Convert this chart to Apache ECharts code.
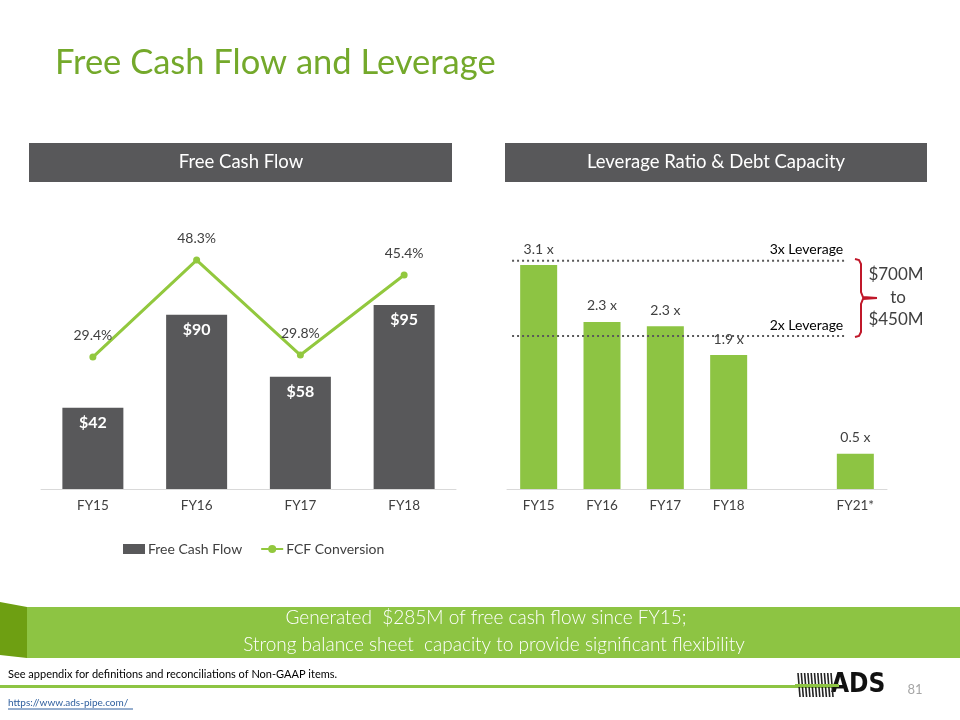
<!DOCTYPE html>
<html>
<head>
<meta charset="utf-8">
<script src="https://cdn.jsdelivr.net/npm/echarts@6/dist/echarts.min.js"></script>
<style>html,body{margin:0;padding:0;background:#fff}#c{width:960px;height:720px}</style>
</head>
<body>
<div id="c"></div>
<script>
// ---- data ----
var fcfCategories = ['FY15', 'FY16', 'FY17', 'FY18'];
var fcfValues = [42, 90, 58, 95];
var fcfConversion = [29.4, 48.3, 29.8, 45.4];
var levCategories = ['FY15', 'FY16', 'FY17', 'FY18', '', 'FY21*'];
var levValues = [3.11, 2.32, 2.26, 1.86, null, 0.49];
var refLineLevels = [3.17, 2.125];
var refLineLabels = ['3x Leverage', '2x Leverage'];
var refLineSpan = [0.08, 5.34];
var capacityText = ['$700M', 'to', '$450M'];

var FONT = 'Lato, "Open Sans", sans-serif';
var GREEN = '#8dc443';
var DARK = '#58585a';

var chart = echarts.init(document.getElementById('c'), null, {renderer: 'canvas'});

var series = [
  {
    name: 'Free Cash Flow', type: 'bar', xAxisIndex: 0, yAxisIndex: 0,
    data: fcfValues, barWidth: 61, itemStyle: {color: DARK},
    label: {show: true, position: 'insideTop', distance: 7, color: '#fff', fontFamily: FONT,
      fontSize: 16, fontWeight: 'bold', formatter: function (p) { return '$' + p.value; }},
    z: 2
  },
  {
    name: 'FCF Conversion', type: 'line', xAxisIndex: 0, yAxisIndex: 1,
    data: fcfConversion, symbol: 'circle', symbolSize: 7,
    lineStyle: {color: '#92c83e', width: 3}, itemStyle: {color: '#92c83e'},
    label: {show: true, position: 'top', distance: 11, color: '#404040', fontFamily: FONT,
      fontSize: 14, formatter: function (p) { return p.value.toFixed(1) + '%'; }},
    z: 3
  },
  {
    name: 'Leverage', type: 'bar', xAxisIndex: 1, yAxisIndex: 2,
    data: levValues, barWidth: 37, itemStyle: {color: GREEN},
    label: {show: true, position: 'top', distance: 9, color: '#404040', fontFamily: FONT,
      fontSize: 14, formatter: function (p) { return p.value.toFixed(1) + ' x'; }},
    z: 2
  }
];
refLineLevels.forEach(function (lv, i) {
  series.push({
    name: refLineLabels[i], type: 'line', xAxisIndex: 2, yAxisIndex: 2,
    data: [[refLineSpan[0], lv], [refLineSpan[1], lv]], symbol: 'none',
    lineStyle: {color: '#595959', width: 2, type: [2, 3]}, silent: true, z: 4,
    endLabel: {show: true, formatter: refLineLabels[i], align: 'right', offset: [-10, -11],
      color: '#000', fontFamily: FONT, fontSize: 14}
  });
});

var graphics = [
  {type: 'text', x: 55, y: 63, style: {text: 'Free Cash Flow and Leverage', fill: '#74a92b', font: '34.5px ' + FONT, textVerticalAlign: 'middle'}},
  {type: 'rect', shape: {x: 29, y: 143, width: 423, height: 39}, style: {fill: DARK}},
  {type: 'text', x: 241, y: 162, style: {text: 'Free Cash Flow', fill: '#fff', font: '18.5px ' + FONT, textAlign: 'center', textVerticalAlign: 'middle'}},
  {type: 'rect', shape: {x: 505, y: 143, width: 422, height: 39}, style: {fill: DARK}},
  {type: 'text', x: 716, y: 162, style: {text: 'Leverage Ratio & Debt Capacity', fill: '#fff', font: '18.5px ' + FONT, textAlign: 'center', textVerticalAlign: 'middle'}},
  // bracket
  {type: 'polyline', shape: {points: [[855, 259], [859, 260], [861, 264], [861, 292], [863, 297], [877, 298]]},
    style: {stroke: '#c0182a', lineWidth: 2, fill: null}},
  {type: 'polyline', shape: {points: [[877, 298], [863, 299], [861, 304], [861, 332], [859, 336], [855, 337]]},
    style: {stroke: '#c0182a', lineWidth: 2, fill: null}},
  {type: 'text', x: 896, y: 275, style: {text: capacityText[0], fill: '#404040', font: '17px ' + FONT, textAlign: 'center', textVerticalAlign: 'middle'}},
  {type: 'text', x: 898, y: 298, style: {text: capacityText[1], fill: '#404040', font: '17px ' + FONT, textAlign: 'center', textVerticalAlign: 'middle'}},
  {type: 'text', x: 896, y: 320, style: {text: capacityText[2], fill: '#404040', font: '17px ' + FONT, textAlign: 'center', textVerticalAlign: 'middle'}},
  // banner
  {type: 'polygon', shape: {points: [[0, 602], [27, 607], [27, 658], [0, 655]]}, style: {fill: '#6e9f12'}},
  {type: 'rect', shape: {x: 27, y: 607, width: 933, height: 51}, style: {fill: GREEN}},
  {type: 'text', x: 486, y: 618, style: {text: 'Generated  $285M of free cash flow since FY15;', fill: '#fff', font: '300 19px ' + FONT, textAlign: 'center', textVerticalAlign: 'middle'}},
  {type: 'text', x: 494, y: 645, style: {text: 'Strong balance sheet  capacity to provide significant flexibility', fill: '#fff', font: '300 19px ' + FONT, textAlign: 'center', textVerticalAlign: 'middle'}},
  // footer
  {type: 'text', x: 8, y: 674, style: {text: 'See appendix for definitions and reconciliations of Non-GAAP items.', fill: '#000', font: '11px ' + FONT, textVerticalAlign: 'middle'}},
  {type: 'rect', shape: {x: 0, y: 685, width: 840, height: 3}, style: {fill: GREEN}},
  {type: 'text', x: 8, y: 703, style: {text: 'https://www.ads-pipe.com/', fill: '#2f5f9e', font: '10px ' + FONT, textVerticalAlign: 'middle'}},
  {type: 'line', shape: {x1: 8, y1: 709, x2: 133, y2: 709}, style: {stroke: '#2f5f9e', lineWidth: 1}},
  {type: 'text', x: 915, y: 690, style: {text: '81', fill: '#a6a6a6', font: '13px ' + FONT, textAlign: 'center', textVerticalAlign: 'middle'}},
  {type: 'text', x: 831, y: 685, style: {text: 'ADS', fill: '#111', font: 'bold 26px "DejaVu Sans Condensed", ' + FONT, textVerticalAlign: 'middle'}}
];
for (var i = 0; i < 11; i++) {
  graphics.push({type: 'line', shape: {x1: 798 + i * 3.3, y1: 673, x2: 798 + i * 3.3 + 2, y2: 697},
    style: {stroke: '#222', lineWidth: 1.6}});
}
graphics.push({type: 'rect', shape: {x: 795, y: 684, width: 44, height: 3}, style: {fill: GREEN}});

var option = {
  backgroundColor: '#fff',
  animation: false,
  textStyle: {fontFamily: FONT},
  grid: [
    {left: 41, right: 504, top: 218, bottom: 231, containLabel: false},
    {left: 507, right: 73, top: 201, bottom: 231, containLabel: false}
  ],
  legend: {
    data: [{name: 'Free Cash Flow', icon: 'rect'}, 'FCF Conversion'], left: 118, top: 537,
    itemWidth: 22, itemHeight: 10, itemGap: 18,
    textStyle: {color: '#404040', fontFamily: FONT, fontSize: 14, padding: [0, 0, 0, -2]}
  },
  xAxis: [
    {type: 'category', gridIndex: 0, data: fcfCategories,
      axisLine: {lineStyle: {color: '#d9d9d9'}}, axisTick: {show: false},
      axisLabel: {color: '#404040', fontFamily: FONT, fontSize: 13.5, margin: 10}},
    {type: 'category', gridIndex: 1, data: levCategories,
      axisLine: {lineStyle: {color: '#d9d9d9'}}, axisTick: {show: false},
      axisLabel: {color: '#404040', fontFamily: FONT, fontSize: 13.5, margin: 10, interval: 0}},
    {type: 'value', gridIndex: 1, min: 0, max: 6, show: false}
  ],
  yAxis: [
    {type: 'value', gridIndex: 0, min: 0, max: 140, show: false, splitLine: {show: false}},
    {type: 'value', gridIndex: 0, min: 3.7, max: 56.5, show: false, splitLine: {show: false}},
    {type: 'value', gridIndex: 1, min: 0, max: 4, show: false, splitLine: {show: false}}
  ],
  series: series,
  graphic: graphics
};
chart.setOption(option);
</script>
</body>
</html>
